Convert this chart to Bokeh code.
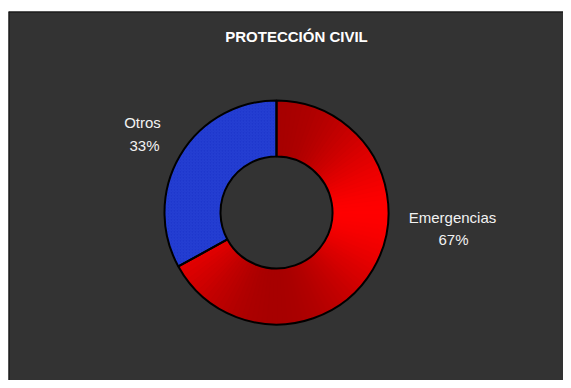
import math
from bokeh.plotting import figure
from bokeh.models import Range1d, ColumnDataSource, Span
from bokeh.core.properties import value
from bokeh.embed import file_html
from bokeh.resources import INLINE

# ---- data ----
title_text = "PROTECCIÓN CIVIL"
categories = ["Emergencias", "Otros"]
shares = [67, 33]
pct_labels = ["67%", "33%"]

# ---- layout / style constants ----
W, H, LEFT, TOP = 563, 380, 8, 11
FW, FH = W - LEFT, H - TOP
CX, CY = 268, 168
R_OUT, R_IN = 112, 56
label_pos = {"Emergencias": (444, 163.5, 445, 141), "Otros": (134, 258, 136, 235.5)}
BG = "#333333"
TXT = "#F2F2F2"
FONT = value("Liberation Sans")

p = figure(width=W, height=H, output_backend="svg", toolbar_location=None,
           x_range=Range1d(0, FW), y_range=Range1d(0, FH),
           min_border_left=LEFT, min_border_right=0, min_border_bottom=0,
           min_border_top=TOP)
p.axis.visible = False
p.grid.visible = False
p.background_fill_color = BG
p.border_fill_color = "white"
p.outline_line_color = None
p.add_layout(Span(location=0, dimension="height", line_color="#111111", line_width=2))
p.add_layout(Span(location=FH, dimension="width", line_color="#111111", line_width=2))

total = float(sum(shares))
# slices go clockwise from 12 o'clock
start = math.pi / 2
slices = []
for cat, v in zip(categories, shares):
    sweep = 2 * math.pi * v / total
    end = start - sweep
    slices.append((cat, end, start))
    start = end

for cat, a0, a1 in slices:
    if cat == "Emergencias":
        n = 90
        ss, es, cols = [], [], []
        for i in range(n):
            s = a0 + (a1 - a0) * i / n
            e = a0 + (a1 - a0) * (i + 1) / n
            m = 0.5 * (s + e)
            t = abs(math.sin(m)) ** 1.6
            r = int(round(255 - 88 * t))
            cols.append("#%02x0000" % r)
            ss.append(s)
            es.append(e + 0.004)
        src = ColumnDataSource(dict(s=ss, e=es, c=cols))
        p.annular_wedge(x=CX, y=CY, inner_radius=R_IN, outer_radius=R_OUT,
                        start_angle="s", end_angle="e", fill_color="c",
                        line_color="c", line_width=1, source=src)
    else:
        p.annular_wedge(x=CX, y=CY, inner_radius=R_IN, outer_radius=R_OUT,
                        start_angle=a0, end_angle=a1, fill_color="#1E37CC",
                        line_color=None, hatch_pattern="/", hatch_color="#2A45D8",
                        hatch_scale=3, hatch_weight=0.6)

# outlines
for cat, a0, a1 in slices:
    p.annular_wedge(x=CX, y=CY, inner_radius=R_IN, outer_radius=R_OUT,
                    start_angle=a0, end_angle=a1, fill_alpha=0,
                    line_color="black", line_width=2)

# labels
for cat, pct in zip(categories, pct_labels):
    x1, y1, x2, y2 = label_pos[cat]
    p.text(x=[x1], y=[y1], text=[cat], text_font=FONT, text_font_size="15px",
           text_color=TXT, text_align="center", text_baseline="middle")
    p.text(x=[x2], y=[y2], text=[pct], text_font=FONT, text_font_size="15px",
           text_color=TXT, text_align="center", text_baseline="middle")

p.text(x=[288], y=[344], text=[title_text], text_font=FONT, text_font_size="15px",
       text_font_style="bold", text_color="white", text_align="center",
       text_baseline="middle")

open("out.html", "w").write(file_html(p, INLINE))
